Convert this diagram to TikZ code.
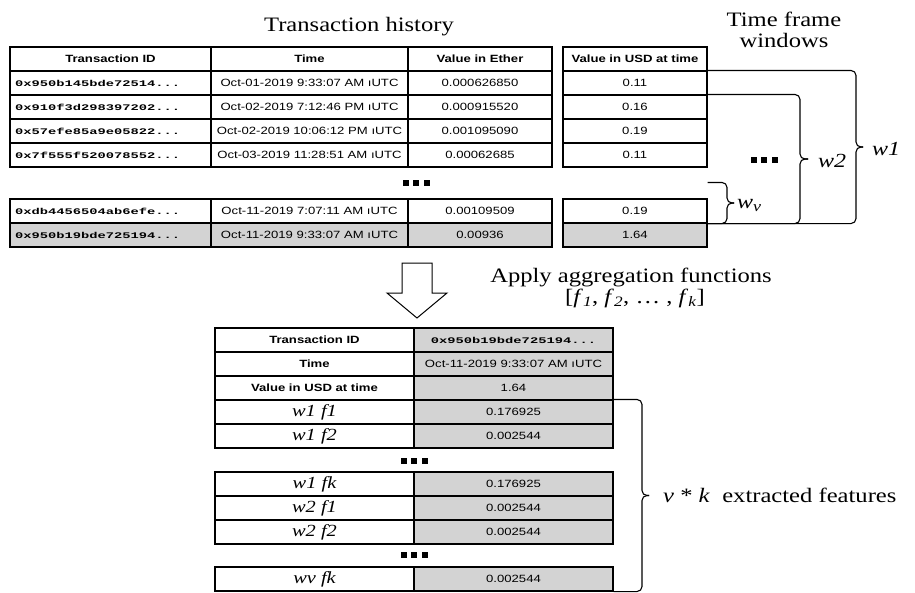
\documentclass[tikz,border=0pt]{standalone}
\usepackage{fontspec}
\setmainfont{Liberation Serif}
\newfontfamily\tsans{Liberation Sans}[FakeStretch=1.25]
\newfontfamily\tmono{Liberation Mono}[FakeStretch=1.6]
\newfontfamily\tserif{Liberation Serif}[FakeStretch=1.2]
\definecolor{cellgray}{RGB}{211,211,211}
\tikzset{
  cell/.style={draw, line width=1.1pt, inner sep=0pt, minimum height=24pt,
    font=\tsans\fontsize{10.5}{12}\selectfont},
  hcell/.style={cell, font=\tsans\bfseries\fontsize{10.5}{12}\selectfont},
  idcell/.style={cell, font=\tmono\bfseries\fontsize{8.6}{10}\selectfont},
  idleft/.style={idcell, inner xsep=5pt, text width=191pt, align=left},
  wcell/.style={cell, font=\tserif\itshape\fontsize{17}{20}\selectfont},
  gcell/.style={fill=cellgray},
  ttl/.style={inner sep=0pt, font=\tserif\fontsize{20.5}{21}\selectfont},
  wlab/.style={inner sep=0pt, anchor=base west, font=\tserif\itshape\fontsize{20}{22}\selectfont},
  brace/.style={line width=1.1pt, rounded corners=5pt},
  bigarrow/.style={draw, line width=1pt, fill=white, line join=miter},
  dotsq/.style={inner sep=0pt}
}
\newcommand\sq{\rule{6pt}{6pt}}
\newcommand\sqdots{\sq\hspace{4.5pt}\sq\hspace{4.5pt}\sq}
\newcommand\txrow[7]{%
  \node[idleft,#3] (#1id) at (110.5,#2) {#4};
  \node[cell,#3,minimum width=197pt] (#1t) at (309.5,#2) {#5};
  \node[cell,#3,minimum width=144pt] (#1e) at (480,#2) {#6};
  \node[cell,#3,minimum width=144pt] (#1u) at (635,#2) {#7};}
\begin{document}
\begin{tikzpicture}[x=1pt,y=-1pt]
\useasboundingbox (0,0) rectangle (915,592);
\fill[white] (0,0) rectangle (915,592);

% titles
\node[ttl, anchor=base] (th) at (359,31) {Transaction history};
\node[ttl, align=center] (tfw) at (784,30) {Time frame\\windows};

% top table
\node[hcell, minimum width=201pt] (hid) at (110.5,59) {Transaction ID};
\node[hcell, minimum width=197pt] (htime) at (309.5,59) {Time};
\node[hcell, minimum width=144pt] (heth) at (480,59) {Value in Ether};
\node[hcell, minimum width=144pt] (husd) at (635,59) {Value in USD at time};
\txrow{ra}{83}{}{0x950b145bde72514...}{Oct-01-2019 9:33:07 AM \i UTC}{0.000626850}{0.11}
\txrow{rb}{107}{}{0x910f3d298397202...}{Oct-02-2019 7:12:46 PM \i UTC}{0.000915520}{0.16}
\txrow{rc}{131}{}{0x57efe85a9e05822...}{Oct-02-2019 10:06:12 PM \i UTC}{0.001095090}{0.19}
\txrow{rd}{155}{}{0x7f555f520078552...}{Oct-03-2019 11:28:51 AM \i UTC}{0.00062685}{0.11}
\txrow{re}{211}{}{0xdb4456504ab6efe...}{Oct-11-2019 7:07:11 AM \i UTC}{0.00109509}{0.19}
\txrow{rf}{235}{gcell}{0x950b19bde725194...}{Oct-11-2019 9:33:07 AM \i UTC}{0.00936}{1.64}
\node[dotsq] (dtop) at (416,183) {\sqdots};

% time frame windows braces
\coordinate (w1tip) at (863,147);
\coordinate (w2tip) at (808,159);
\coordinate (wvtip) at (734,203);
\draw[brace] (rau.north east) -| ([xshift=-7pt]w1tip) -- (w1tip);
\draw[brace] (reu.south east) -| ([xshift=-7pt]w1tip) -- (w1tip);
\draw[brace] (rbu.north east) -| ([xshift=-8pt]w2tip) -- (w2tip);
\draw[brace] (reu.south east) -| ([xshift=-8pt]w2tip) -- (w2tip);
\draw[brace] ([yshift=16pt]reu.north east) -| ([xshift=-7pt]wvtip) -- (wvtip);
\draw[brace] (reu.south east) -| ([xshift=-7pt]wvtip) -- (wvtip);
\node[wlab] (lw1) at (872,155) {w1};
\node[wlab] (lw2) at (818,167) {w2};
\node[wlab] (lwv) at (737,208) {w{\fontsize{15}{15}\selectfont\raisebox{-3pt}{v}}};
\node[dotsq] (dright) at (764,160) {\sqdots};

% arrow
\draw[bigarrow] (402,263) -- (432,263) -- (432,293) -- (447,293) -- (417,318)
  -- (387,293) -- (402,293) -- cycle;
\node[ttl, anchor=base] (agg) at (631,282) {Apply aggregation functions};
\node[ttl, anchor=base] (flist) at (635,303)
  {[\textit{f}\textsubscript{\textit{1}}, \textit{f}\textsubscript{\textit{2}}, \dots\ , \textit{f}\textsubscript{\textit{k}}]};

% bottom table
\node[hcell, minimum width=199pt] (b1l) at (314.5,340) {Transaction ID};
\node[idcell, gcell, minimum width=199pt] (b1v) at (513.5,340) {0x950b19bde725194...};
\node[hcell, minimum width=199pt] (b2l) at (314.5,364) {Time};
\node[cell, gcell, minimum width=199pt] (b2v) at (513.5,364) {Oct-11-2019 9:33:07 AM \i UTC};
\node[hcell, minimum width=199pt] (b3l) at (314.5,388) {Value in USD at time};
\node[cell, gcell, minimum width=199pt] (b3v) at (513.5,388) {1.64};
\node[wcell, minimum width=199pt] (b4l) at (314.5,412) {w1 f1};
\node[cell, gcell, minimum width=199pt] (b4v) at (513.5,412) {0.176925};
\node[wcell, minimum width=199pt] (b5l) at (314.5,436) {w1 f2};
\node[cell, gcell, minimum width=199pt] (b5v) at (513.5,436) {0.002544};
\node[dotsq] (dbot1) at (414,461) {\sqdots};
\node[wcell, minimum width=199pt] (b6l) at (314.5,484) {w1 fk};
\node[cell, gcell, minimum width=199pt] (b6v) at (513.5,484) {0.176925};
\node[wcell, minimum width=199pt] (b7l) at (314.5,508) {w2 f1};
\node[cell, gcell, minimum width=199pt] (b7v) at (513.5,508) {0.002544};
\node[wcell, minimum width=199pt] (b8l) at (314.5,532) {w2 f2};
\node[cell, gcell, minimum width=199pt] (b8v) at (513.5,532) {0.002544};
\node[dotsq] (dbot2) at (414,555) {\sqdots};
\node[wcell, minimum width=199pt] (b9l) at (314.5,579) {wv fk};
\node[cell, gcell, minimum width=199pt] (b9v) at (513.5,579) {0.002544};

% extracted features brace
\coordinate (ftip) at (649,495.5);
\draw[brace] (b4v.north east) -| ([xshift=-7pt]ftip) -- (ftip);
\draw[brace] (b9v.south east) -| ([xshift=-7pt]ftip) -- (ftip);
\node[ttl, anchor=base west] (feat) at (663,502) {\textit{v} * \textit{k}\ \ extracted features};
\end{tikzpicture}
\end{document}
